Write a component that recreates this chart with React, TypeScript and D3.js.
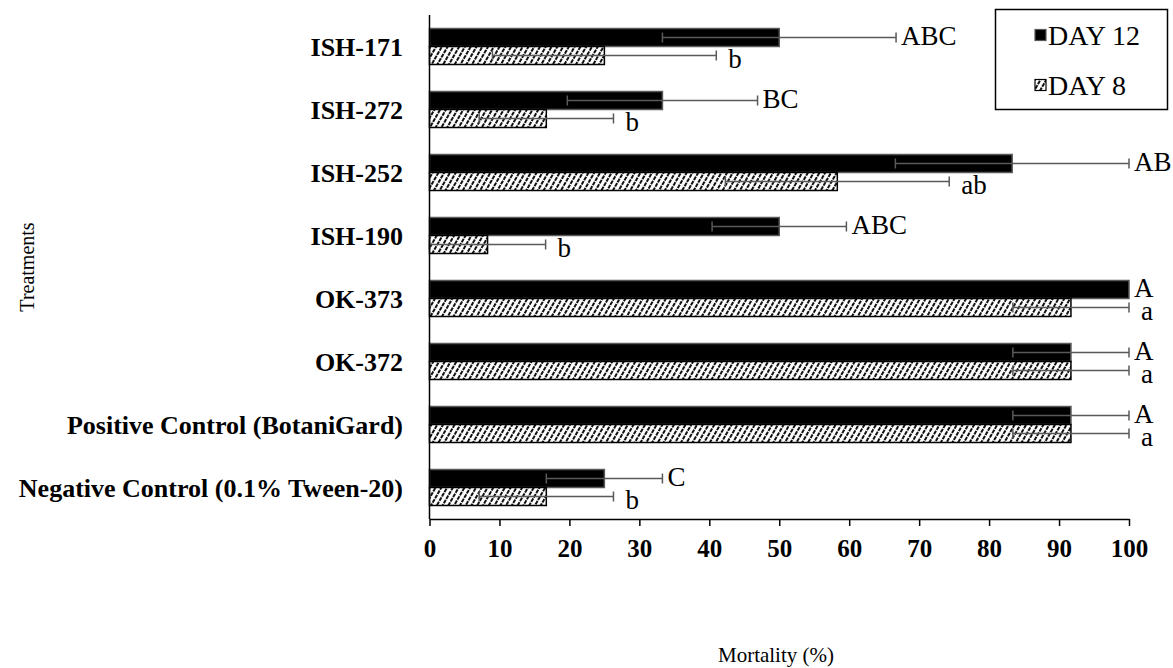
import React, { useEffect, useRef } from 'react';
import * as d3 from 'd3';

// treatments, top to bottom
const treatments = [
  'ISH-171',
  'ISH-272',
  'ISH-252',
  'ISH-190',
  'OK-373',
  'OK-372',
  'Positive Control (BotaniGard)',
  'Negative Control (0.1% Tween-20)',
];
const day12 = [50, 33.3, 83.3, 50, 100, 91.7, 91.7, 25];
const day12Err = [16.7, 13.6, 16.7, 9.6, 0, 8.3, 8.3, 8.3];
const day12Letters = ['ABC', 'BC', 'AB', 'ABC', 'A', 'A', 'A', 'C'];
const day8 = [25, 16.7, 58.3, 8.3, 91.7, 91.7, 91.7, 16.7];
const day8Err = [16, 9.6, 16, 8.3, 8.3, 8.3, 8.3, 9.6];
const day8Letters = ['b', 'b', 'ab', 'b', 'a', 'a', 'a', 'b'];
const xTicks = [0, 10, 20, 30, 40, 50, 60, 70, 80, 90, 100];
const seriesNames = ['DAY 12', 'DAY 8'];

const FONT = '"Liberation Serif", "Times New Roman", serif';

export default function App() {
  const ref = useRef<SVGSVGElement>(null);

  useEffect(() => {
    document.body.style.margin = '0';
    const svg = d3.select(ref.current);
    svg.selectAll('*').remove();

    const W = 1173;
    const H = 668;
    const left = 429.5;
    const right = 1129;
    const top = 15;
    const bottom = 519;

    const x = d3.scaleLinear().domain([0, 100]).range([left, right]);
    const y = d3
      .scaleBand<string>()
      .domain(treatments)
      .range([top, bottom])
      .paddingInner(0.4286)
      .paddingOuter(0.2143);
    const sub = d3.scaleBand<string>().domain(seriesNames).range([0, y.bandwidth()]);

    svg.append('rect').attr('width', W).attr('height', H).attr('fill', '#fff');

    // hatch pattern for DAY 8
    const defs = svg.append('defs');
    const pat = defs
      .append('pattern')
      .attr('id', 'hatch')
      .attr('patternUnits', 'userSpaceOnUse')
      .attr('width', 5)
      .attr('height', 5)
      .attr('patternTransform', 'rotate(30)');
    pat.append('rect').attr('width', 5).attr('height', 5).attr('fill', '#fff');
    pat
      .append('line')
      .attr('x1', 1)
      .attr('y1', 0)
      .attr('x2', 1)
      .attr('y2', 5)
      .attr('stroke', '#111')
      .attr('stroke-width', 2)
      .attr('stroke-dasharray', '4 1');

    const rows = treatments.map((t, i) => ({
      t,
      d12: day12[i],
      e12: day12Err[i],
      l12: day12Letters[i],
      d8: day8[i],
      e8: day8Err[i],
      l8: day8Letters[i],
    }));

    const g = svg.append('g');

    // DAY 12 bars
    g.selectAll('.b12')
      .data(rows)
      .enter()
      .append('rect')
      .attr('x', x(0))
      .attr('y', (d) => y(d.t)! + sub('DAY 12')!)
      .attr('width', (d) => x(d.d12) - x(0))
      .attr('height', sub.bandwidth())
      .attr('fill', '#000')
      .attr('stroke', '#595959')
      .attr('stroke-width', 1.5);

    // DAY 8 bars
    g.selectAll('.b8')
      .data(rows)
      .enter()
      .append('rect')
      .attr('x', x(0))
      .attr('y', (d) => y(d.t)! + sub('DAY 8')!)
      .attr('width', (d) => x(d.d8) - x(0))
      .attr('height', sub.bandwidth())
      .attr('fill', 'url(#hatch)')
      .attr('stroke', '#000')
      .attr('stroke-width', 1.5);

    // error bars
    const errColor = '#595959';
    const cap = 5;
    const drawErr = (val: number, err: number, cy: number) => {
      if (err <= 0) return;
      const x0 = x(val - err);
      const x1 = x(val + err);
      g.append('line')
        .attr('x1', x0)
        .attr('x2', x1)
        .attr('y1', cy)
        .attr('y2', cy)
        .attr('stroke', errColor)
        .attr('stroke-width', 1.5);
      [x0, x1].forEach((cx) =>
        g
          .append('line')
          .attr('x1', cx)
          .attr('x2', cx)
          .attr('y1', cy - cap)
          .attr('y2', cy + cap)
          .attr('stroke', errColor)
          .attr('stroke-width', 1.5)
      );
    };

    rows.forEach((d) => {
      const c12 = y(d.t)! + sub('DAY 12')! + sub.bandwidth() / 2;
      const c8 = y(d.t)! + sub('DAY 8')! + sub.bandwidth() / 2;
      drawErr(d.d12, d.e12, c12);
      drawErr(d.d8, d.e8, c8);
      g.append('text')
        .attr('x', x(d.d12 + d.e12) + 5)
        .attr('y', c12 - 2)
        .attr('dy', '0.35em')
        .attr('font-family', FONT)
        .attr('font-size', 27)
        .text(d.l12);
      g.append('text')
        .attr('x', x(d.d8 + d.e8) + 12)
        .attr('y', c8 + 3)
        .attr('dy', '0.35em')
        .attr('font-family', FONT)
        .attr('font-size', 27)
        .text(d.l8);
    });

    // y axis line
    svg
      .append('line')
      .attr('x1', left)
      .attr('x2', left)
      .attr('y1', top)
      .attr('y2', bottom)
      .attr('stroke', '#000')
      .attr('stroke-width', 1.5);

    // category labels
    svg
      .append('g')
      .selectAll('text')
      .data(treatments)
      .enter()
      .append('text')
      .attr('x', 403)
      .attr('y', (d) => y(d)! + y.bandwidth() / 2)
      .attr('dy', '0.35em')
      .attr('text-anchor', 'end')
      .attr('font-family', FONT)
      .attr('font-weight', 'bold')
      .attr('font-size', 26)
      .text((d) => d);

    // x axis
    const xAxis = svg
      .append('g')
      .attr('transform', `translate(0,${bottom})`)
      .call(d3.axisBottom(x).tickValues(xTicks).tickSize(7).tickPadding(13).tickSizeOuter(0));
    xAxis.select('.domain').attr('stroke', '#000').attr('stroke-width', 1.5);
    xAxis.selectAll('.tick line').attr('stroke', '#000').attr('stroke-width', 1.5);
    xAxis
      .selectAll('.tick text')
      .attr('font-family', FONT)
      .attr('font-weight', 'bold')
      .attr('font-size', 25)
      .attr('fill', '#000');

    // axis titles
    svg
      .append('text')
      .attr('x', 776)
      .attr('y', 662)
      .attr('text-anchor', 'middle')
      .attr('font-family', FONT)
      .attr('font-size', 21)
      .text('Mortality (%)');
    svg
      .append('text')
      .attr('transform', 'translate(34,267) rotate(-90)')
      .attr('text-anchor', 'middle')
      .attr('font-family', FONT)
      .attr('font-size', 20)
      .text('Treatments');

    // legend
    const lg = svg.append('g');
    lg.append('rect')
      .attr('x', 995.5)
      .attr('y', 9.5)
      .attr('width', 172)
      .attr('height', 100)
      .attr('fill', '#fff')
      .attr('stroke', '#000')
      .attr('stroke-width', 1.5);
    seriesNames.forEach((s, i) => {
      const cy = 35 + i * 50;
      lg.append('rect')
        .attr('x', 1035)
        .attr('y', cy - 5.5)
        .attr('width', 11)
        .attr('height', 11)
        .attr('fill', i === 0 ? '#000' : 'url(#hatch)')
        .attr('stroke', i === 0 ? '#595959' : '#000')
        .attr('stroke-width', 1.2);
      lg.append('text')
        .attr('x', 1048)
        .attr('y', cy)
        .attr('dy', '0.35em')
        .attr('font-family', FONT)
        .attr('font-size', 28)
        .text(s);
    });
  }, []);

  return <svg ref={ref} width={1173} height={668} style={{ display: 'block' }} />;
}
